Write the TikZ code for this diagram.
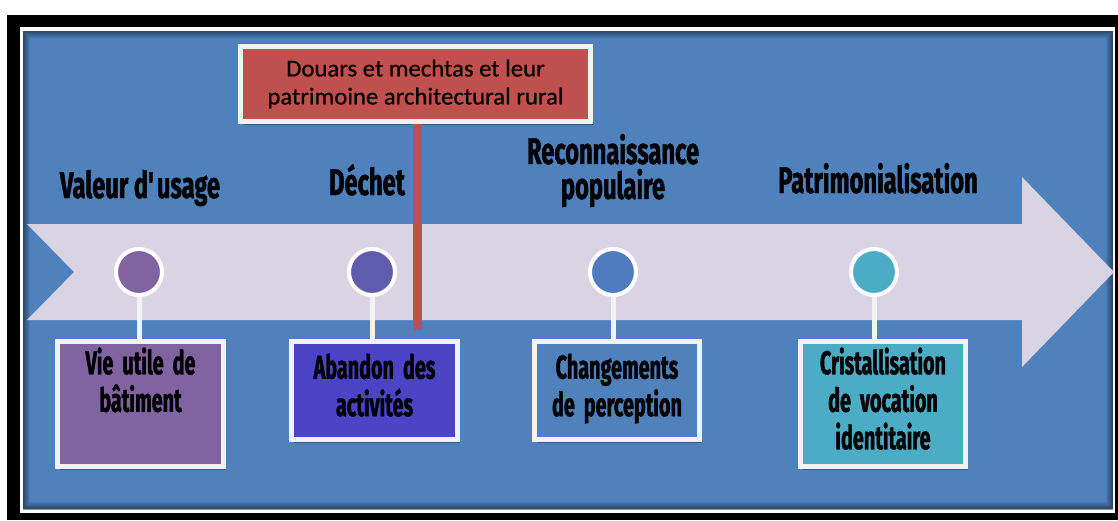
\documentclass[tikz,border=0pt]{standalone}
\usepackage{fontspec}
\setmainfont{Carlito}
\newfontfamily\headfont{Fira Sans}[FakeStretch=0.64,FakeBold=1.2]
\newfontfamily\boxfont{Fira Sans}[FakeStretch=0.6,FakeBold=1.2]
\newfontfamily\redfont{Carlito}[FakeStretch=1.03,FakeBold=0.6]
\usetikzlibrary{shadows}
\definecolor{panelblue}{HTML}{4F81BD}
\definecolor{arrowgray}{HTML}{D8D4E3}
\definecolor{dotA}{HTML}{8064A2}
\definecolor{dotB}{HTML}{5F5BAD}
\definecolor{dotC}{HTML}{4F7BBF}
\definecolor{dotD}{HTML}{4BACC6}
\definecolor{boxB}{HTML}{4B44C7}
\definecolor{redfill}{HTML}{C0504D}
\definecolor{rim}{HTML}{F2F2F2}
\newcommand\wideSpacing{\spaceskip=9pt plus 2pt\relax}
\newcommand\topStrut{\vrule width 0pt height 31pt\relax}
\begin{document}
\begin{tikzpicture}[x=1pt,y=-1pt,
  heading/.style={font=\headfont\bfseries\fontsize{37}{35}\selectfont, text=black, inner sep=0pt, align=center},
  dot/.style={circle, draw=white, line width=4pt, minimum size=46pt, inner sep=0pt},
  stem/.style={draw=rim, line width=5pt},
  stepbox/.style={rectangle, draw=rim, line width=5pt, minimum width=166pt, inner sep=0pt,
    font=\boxfont\bfseries\fontsize{33}{37.5}\selectfont, text=black, align=center,
    execute at begin node={\wideSpacing\topStrut}, execute at end node={\strut},
    drop shadow={shadow xshift=2pt, shadow yshift=-3pt, fill=black, opacity=0.3}},
  redbox/.style={rectangle, draw=rim, line width=5pt, fill=redfill, minimum width=350pt, minimum height=75pt,
    inner sep=0pt, font=\redfont\fontsize{24}{28}\selectfont, text=black, align=center,
    drop shadow={shadow xshift=2pt, shadow yshift=-3pt, fill=black, opacity=0.3}},
  redline/.style={draw=redfill, line width=9pt}
]
\useasboundingbox (0,0) rectangle (1118,520);
\fill[white] (0,0) rectangle (1118,520);
% frame
\fill[black] (7,15) rectangle (1118,520);
\fill[white] (20,27) rectangle (1115,513);
\fill[panelblue] (23,31) rectangle (1113,509);
\begin{scope}
  \clip (23,31) rectangle (1113,509);
  \foreach \i in {1,...,7}{
    \draw[black, opacity=0.07, line width=2*\i pt] (23,31) rectangle (1113,509);
  }
\end{scope}
% big arrow
\fill[arrowgray] (27,224) -- (1022,224) -- (1022,177) -- (1114,272) -- (1022,367)
  -- (1022,320) -- (27,320) -- (74,272) -- cycle;
% red box and its line
\coordinate (redend) at (417,330);
\node[redbox] (red) at (415.5,84) {Douars et mechtas et leur\\patrimoine architectural rural};
\draw[redline] (redend |- red.south) -- (redend);
% boxes
\node[stepbox, fill=dotA, minimum height=125pt] (b1) at (140.5,404) {Vie utile de\\bâtiment\\};
\node[stepbox, fill=boxB, minimum height=98pt] (b2) at (374.5,390.5) {Abandon des\\activités};
\node[stepbox, fill=panelblue, minimum height=98pt, minimum width=165pt] (b3) at (617,390.5) {Changements\\de perception};
\node[stepbox, fill=dotD, minimum height=125pt, minimum width=165pt] (b4) at (883,404) {Cristallisation\\de vocation\\identitaire};
% circles
\node[dot, fill=dotA] (c1) at (139,272) {};
\node[dot, fill=dotB] (c2) at (372,272) {};
\node[dot, fill=dotC] (c3) at (613,272) {};
\node[dot, fill=dotD] (c4) at (874,272) {};
\draw[stem] (c1.south) -- (c1.south |- b1.north);
\draw[stem] (c2.south) -- (c2.south |- b2.north);
\draw[stem] (c3.south) -- (c3.south |- b3.north);
\draw[stem] (c4.south) -- (c4.south |- b4.north);
% headings
\node[heading, anchor=base] (h1) at (140,198) {Valeur d\textquotesingle usage};
\node[heading, anchor=base] (h2) at (367,195) {Déchet};
\node[heading] (h3) at (613,170.5) {Reconnaissance\\populaire};
\node[heading, anchor=base] (h4) at (878,193) {Patrimonialisation};
\end{tikzpicture}
\end{document}
